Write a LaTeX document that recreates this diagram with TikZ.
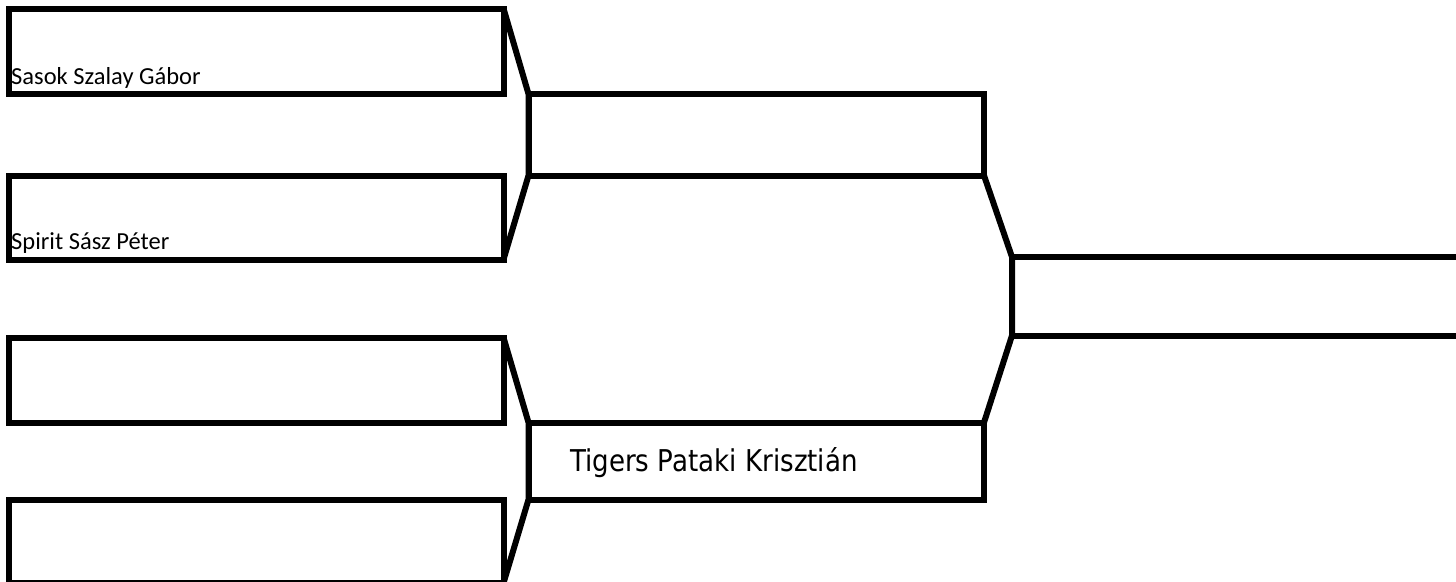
\documentclass[tikz,border=0pt]{standalone}
\usepackage{fontspec}
\newfontfamily\carlitofont{Carlito}
\newfontfamily\dejavufont{DejaVu Sans}
\tikzset{
  slot/.style={draw=black, line width=6pt, rectangle, inner sep=0pt, outer sep=0pt},
  link/.style={draw=black, line width=6pt, line join=miter},
  smalllabel/.style={anchor=base west, inner sep=0pt, font=\carlitofont\fontsize{24.5}{28}\selectfont},
  biglabel/.style={anchor=base west, inner sep=0pt, font=\dejavufont\fontsize{30}{34}\selectfont}
}
\begin{document}
\begin{tikzpicture}[x=1pt,y=-1pt]
\path[use as bounding box, clip] (0,0) rectangle (1456,581);
\fill[white] (0,0) rectangle (1456,581);
% first round
\node[slot, minimum width=495pt, minimum height=85.5pt] (b1) at (256,51.25) {};
\node[slot, minimum width=495pt, minimum height=84pt] (b2) at (256,217.5) {};
\node[slot, minimum width=495pt, minimum height=85pt] (b3) at (256,380) {};
\node[slot, minimum width=495pt, minimum height=83.5pt] (b4) at (256,541.25) {};
% second round
\node[slot, minimum width=455.5pt, minimum height=81.5pt] (m1) at (756.25,134.75) {};
\node[slot, minimum width=455.5pt, minimum height=77pt] (m2) at (756.25,461) {};
% final
\node[slot, minimum width=460pt, minimum height=78.5pt] (f) at (1242,296.25) {};
% connectors
\draw[link] (b1.north east) -- (m1.north west) -- (m1.south west) -- (b2.south east);
\draw[link] (b3.north east) -- (m2.north west) -- (m2.south west) -- (b4.south east);
\draw[link] (m1.south east) -- (f.north west) -- (f.south west) -- (m2.north east);
% labels
\node[smalllabel] (t1) at (11,84) {Sasok Szalay Gábor};
\node[smalllabel] (t2) at (11,249) {Spirit Sász Péter};
\node[biglabel] (t3) at (570,471) {\scalebox{0.87}[1]{Tigers Pataki Krisztián}};
\end{tikzpicture}
\end{document}
